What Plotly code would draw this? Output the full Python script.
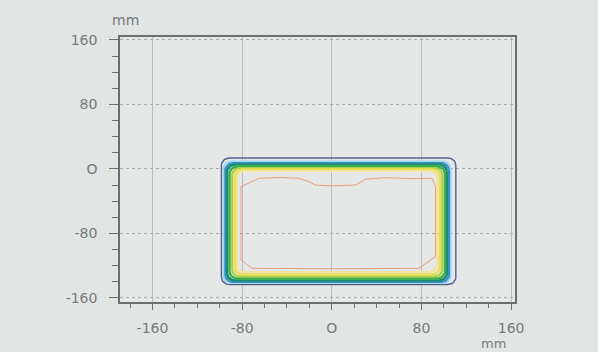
import numpy as np
import plotly.graph_objects as go

# ---- data (mm) ----
level_names = ["outer", "light blue", "blue", "teal", "green", "yellow-green", "yellow", "pale yellow"]
level_xmin = [-98.5, -96.5, -95.0, -93.5, -91.3, -89.0, -86.6, -84.5]
level_xmax = [110.7, 106.0, 104.5, 102.7, 101.0, 98.7, 96.4, 94.0]
level_ymax = [13.6, 9.3, 7.4, 5.6, 3.1, 1.2, -0.6, -2.5]
level_ymin = [-143.3, -141.4, -140.2, -138.4, -135.9, -133.4, -130.9, -127.8]

# inner (orange) isodose line vertices
inner_x = [-65.2, -45.0, -29.5, -20.5, -14.6, 0.0, 21.2, 30.0, 48.0, 70.0, 89.6, 92.5, 92.5, 77.7, 0.0, -71.2, -81.0, -81.0, -65.2]
inner_y = [-11.6, -10.5, -11.6, -15.7, -19.9, -21.0, -19.9, -12.8, -10.8, -12.0, -11.6, -22.0, -108.8, -123.2, -123.8, -123.2, -112.9, -22.0, -11.6]

x_tickvals = [-160, -80, 0, 80, 160]
x_ticktext = ["-160", "-80", "O", "80", "160"]
y_tickvals = [160, 80, 0, -80, -160]
y_ticktext = ["160", "80", "O", "-80", "-160"]

# ---- styles ----
level_colors = ["#56608f", "#9fd5ee", "#3a93c8", "#1d8a78", "#39b04a", "#a9d046", "#ebdf55", "#f1e49f"]
level_widths = [1.4, 2.2, 2.2, 2.6, 2.4, 2.2, 2.4, 2.2]


def rounded_rect(x0, x1, y0, y1, rx=7.0, ry=9.0, n=10):
    xs, ys = [], []
    corners = [(x1 - rx, y1 - ry, 0), (x0 + rx, y1 - ry, 90), (x0 + rx, y0 + ry, 180), (x1 - rx, y0 + ry, 270)]
    for cx, cy, a0 in corners:
        for t in np.linspace(np.radians(a0), np.radians(a0 + 90), n):
            xs.append(cx + rx * np.cos(t))
            ys.append(cy + ry * np.sin(t))
    xs.append(xs[0])
    ys.append(ys[0])
    return xs, ys


fig = go.Figure()
for name, x0, x1, y0, y1, c, w in zip(level_names, level_xmin, level_xmax, level_ymin, level_ymax,
                                      level_colors, level_widths):
    xs, ys = rounded_rect(x0, x1, y0, y1)
    fig.add_trace(go.Scatter(x=xs, y=ys, mode="lines", name=name,
                             line=dict(color=c, width=w), hoverinfo="skip"))

fig.add_trace(go.Scatter(x=inner_x, y=inner_y, mode="lines", name="inner",
                         line=dict(color="#e4a07c", width=1), hoverinfo="skip"))

font = dict(family="DejaVu Sans", size=14, color="#777a79")
axis_common = dict(showline=True, linecolor="#6d6f6f", linewidth=1.5, mirror=True,
                   zeroline=False, tickfont=font, ticks="outside", tickcolor="#6d6f6f",
                   tickmode="array", automargin=False)

fig.update_xaxes(range=[-189, 163.5], tickvals=x_tickvals, ticktext=x_ticktext,
                 ticklen=6, tickwidth=1, ticklabelstandoff=6,
                 showgrid=True, gridcolor="#b9bdbc", gridwidth=1,
                 minor=dict(tick0=0, dtick=20, ticks="outside", ticklen=4, tickcolor="#6d6f6f",
                            showgrid=False),
                 **axis_common)
fig.update_yaxes(range=[-165, 163.7], tickvals=y_tickvals, ticktext=y_ticktext,
                 ticklen=9, tickwidth=1, ticklabelstandoff=9,
                 showgrid=True, gridcolor="#a9adac", gridwidth=1, griddash="dot",
                 minor=dict(tick0=0, dtick=20, ticks="outside", ticklen=6, tickcolor="#6d6f6f",
                            showgrid=False),
                 **axis_common)

fig.add_annotation(text="mm", xref="paper", yref="paper", x=0.0, y=1.0, xanchor="center",
                   yanchor="bottom", yshift=7, xshift=5, showarrow=False, font=font)
fig.add_annotation(text="mm", xref="paper", yref="paper", x=0.945, y=0.0, xanchor="center",
                   yanchor="top", yshift=-32, showarrow=False,
                   font=dict(family="DejaVu Sans", size=13, color="#777a79"))

fig.update_layout(width=598, height=352, margin=dict(l=120, r=83, t=37, b=50, autoexpand=False),
                  paper_bgcolor="#e1e5e4", plot_bgcolor="#e5e8e7", showlegend=False)

fig.write_html("out.html", config={"displayModeBar": False},
               post_script="document.body.style.margin='0';document.body.style.overflow='hidden';"
                           "document.body.style.background='#e1e5e4';")
